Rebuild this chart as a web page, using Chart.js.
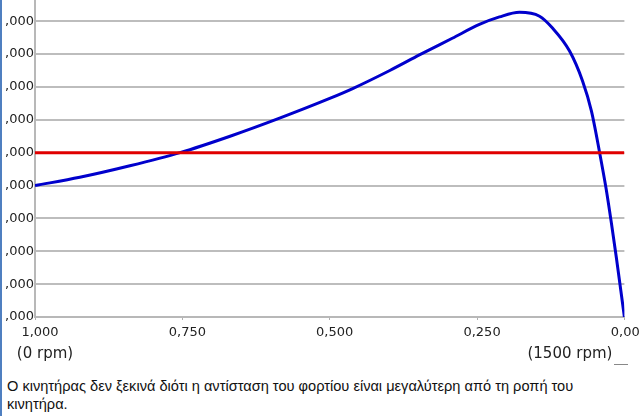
<!DOCTYPE html>
<html>
<head>
<meta charset="utf-8">
<script src="https://cdn.jsdelivr.net/npm/chart.js@4/dist/chart.umd.min.js"></script>
<style>
  html, body { margin: 0; padding: 0; width: 640px; height: 416px; overflow: hidden; background: #ffffff; }
  #wrap { position: absolute; left: 0; top: -8px; width: 648px; height: 380px; }
  #border { position: absolute; left: 0; top: 0; width: 2px; height: 416px; background: #4f7fc0; }
  #caption { position: absolute; left: 7px; top: 377px; font-family: "Liberation Sans", Arial, sans-serif; font-size: 14.6px; line-height: 18px; color: #111; white-space: nowrap; }
  #mark { position: absolute; left: 614px; top: 364px; width: 14px; height: 1px; background: #888; }
</style>
</head>
<body>
<div id="wrap"><canvas id="c"></canvas></div>
<div id="border"></div>
<div id="mark"></div>
<div id="caption">Ο κινητήρας δεν ξεκινά διότι η αντίσταση του φορτίου είναι μεγαλύτερη από τη ροπή του<br>κινητήρα.</div>
<script>
// Slip (1 = 0 rpm, 0 = 1500 rpm) and torque values
const slip = [1.0, 0.924, 0.839, 0.754, 0.669, 0.585, 0.5, 0.461, 0.398, 0.347, 0.292, 0.246, 0.212, 0.178, 0.144, 0.122, 0.093, 0.071, 0.056, 0.042, 0.031, 0.022, 0.0136, 0.006, 0.0];
const motorTorque = [4.0, 4.25, 4.6, 5.0, 5.5, 6.05, 6.65, 6.95, 7.5, 7.98, 8.48, 8.9, 9.13, 9.27, 9.15, 8.79, 8.09, 7.18, 6.27, 5.0, 3.9, 2.85, 1.8, 0.8, 0.0];
const loadSlip = [1.0, 0.0];
const loadTorque = [5, 5];
const xTickValues = [1.0, 0.75, 0.5, 0.25, 0.0];
const xTickLabels = ["1,000", "0,750", "0,500", "0,250", "0,000"];
const yTickValues = [0, 1, 2, 3, 4, 5, 6, 7, 8, 9];
const yTickLabels = [",000", ",000", ",000", ",000", ",000", ",000", ",000", ",000", ",000", ",000"];
const endLabels = ["(0 rpm)", "(1500 rpm)"];

const motorData = slip.map((s, i) => ({ x: s, y: motorTorque[i] }));
const loadData = loadSlip.map((s, i) => ({ x: s, y: loadTorque[i] }));

const rpmPlugin = {
  id: 'rpmLabels',
  afterDraw(chart) {
    const ctx = chart.ctx;
    const xs = chart.scales.x;
    ctx.save();
    ctx.font = '15px "DejaVu Sans"';
    ctx.fillStyle = '#222';
    ctx.textBaseline = 'alphabetic';
    ctx.textAlign = 'center';
    ctx.fillText(endLabels[0], xs.getPixelForValue(1) + 10, 366);
    ctx.textAlign = 'right';
    ctx.fillText(endLabels[1], xs.getPixelForValue(0) - 12, 366);
    ctx.restore();
  }
};

new Chart(document.getElementById('c'), {
  type: 'line',
  data: {
    datasets: [
      { data: loadData, borderColor: '#e00000', borderWidth: 3, pointRadius: 0, tension: 0 },
      { data: motorData, borderColor: '#0000cc', borderWidth: 3, pointRadius: 0, cubicInterpolationMode: 'monotone' }
    ]
  },
  options: {
    responsive: true,
    maintainAspectRatio: false,
    animation: false,
    devicePixelRatio: 1,
    layout: { padding: { top: 0, right: 0, left: 0, bottom: 0 } },
    plugins: { legend: { display: false }, tooltip: { enabled: false } },
    scales: {
      x: {
        type: 'linear',
        reverse: true,
        min: 0,
        max: 1,
        afterBuildTicks: (s) => { s.ticks = xTickValues.map(v => ({ value: v })); },
        afterFit: (s) => { s.height = 55; },
        ticks: {
          autoSkip: false,
          maxRotation: 0,
          padding: 5,
          labelOffset: 5,
          color: '#222',
          font: { family: 'DejaVu Sans', size: 13 },
          callback: (v) => { const i = xTickValues.indexOf(v); return i >= 0 ? xTickLabels[i] : ''; }
        },
        grid: { drawOnChartArea: false, drawTicks: true, tickLength: 3, color: '#b0b0b0', lineWidth: 1 },
        border: { display: true, color: '#b8b8b8', width: 2 }
      },
      y: {
        min: 0,
        max: 9.62,
        afterBuildTicks: (s) => { s.ticks = yTickValues.map(v => ({ value: v })); },
        afterFit: (s) => { s.width = 35; },
        ticks: {
          padding: 1,
          color: '#222',
          font: { family: 'DejaVu Sans', size: 13 },
          callback: (v) => { const i = yTickValues.indexOf(v); return i >= 0 ? yTickLabels[i] : ''; }
        },
        grid: { color: '#bdbdbd', lineWidth: 2, tickLength: 0, drawTicks: false },
        border: { display: true, color: '#b8b8b8', width: 2 }
      }
    }
  },
  plugins: [rpmPlugin]
});
</script>
</body>
</html>
